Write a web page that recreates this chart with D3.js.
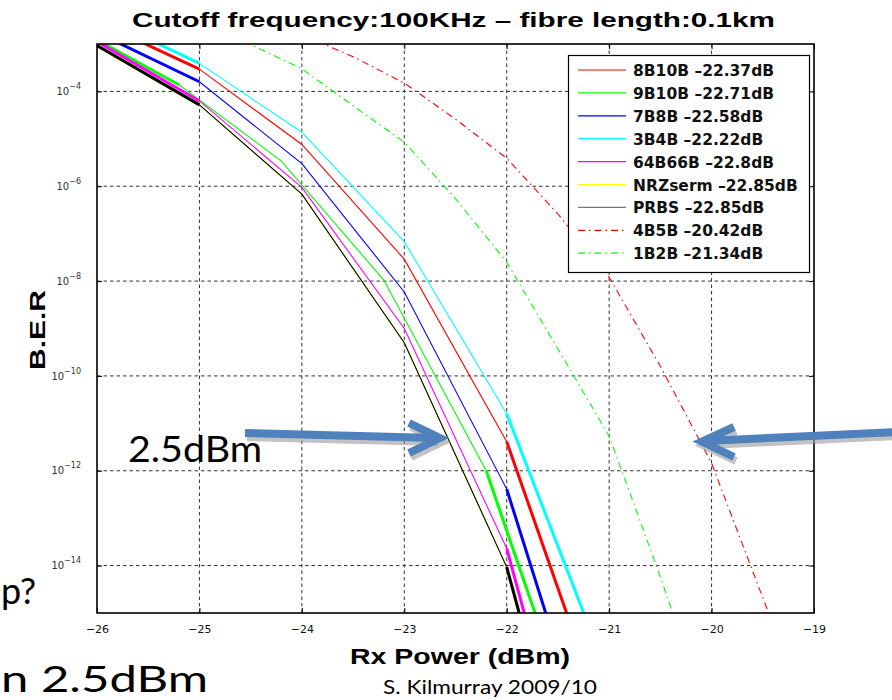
<!DOCTYPE html>
<html><head><meta charset="utf-8">
<script src="https://cdn.jsdelivr.net/npm/d3@7"></script>
<style>body{margin:0;background:#fff}svg{display:block}</style>
</head><body><svg id="c" width="892" height="700"></svg>
<script>
// ---- data (BER vs received power, dBm) ----
const xSolid = [-26, -25, -24, -23, -22, -21];
const x9B10B = [-26.2, -25.2, -24.2, -23.2, -22.2, -21.2];
const ber8B10B  = [3.0e-3, 2.95e-4, 7.6e-6, 2.9e-8, 4.1e-12, 2.7e-18];
const ber9B10B  = [2.1e-3, 1.38e-4, 3.4e-6, 1.05e-8, 1.0e-12, 5.0e-19];
const ber7B8B   = [1.74e-3, 1.6e-4, 3.0e-6, 5.9e-9, 4.1e-13, 5.6e-20];
const ber3B4B   = [4.2e-3, 3.9e-4, 1.38e-5, 6.8e-8, 1.6e-11, 4.1e-17];
const ber64B66B = [1.12e-3, 6.3e-5, 9.5e-7, 1.0e-9, 2.3e-14, 2.5e-22];
const berNRZ    = [9.3e-4, 5.2e-5, 6.8e-7, 5.0e-10, 9.3e-15, 1.0e-22];
const berPRBS   = [9.3e-4, 5.2e-5, 6.8e-7, 5.0e-10, 9.3e-15, 1.0e-22];
const x4B5B   = [-24, -23.5, -23, -22.5, -22, -21.5, -21, -20.5, -20, -19.5, -19];
const ber4B5B = [1.58e-3, 5.4e-4, 1.5e-4, 2.6e-5, 3.9e-6, 2.6e-7, 1.2e-8, 1.6e-10, 1.45e-12, 2.1e-15, 3.2e-18];
const x1B2B   = [-25, -24, -23.5, -23, -22.5, -22, -21.5, -21, -20.5, -20];
const ber1B2B = [3.2e-3, 3.0e-4, 5.0e-5, 8.5e-6, 5.5e-7, 2.5e-8, 3.7e-10, 5.4e-12, 5.8e-15, 4.0e-18];
const legendLabels = ["8B10B \u201322.37dB", "9B10B \u201322.71dB", "7B8B \u201322.58dB", "3B4B \u201322.22dB",
  "64B66B \u201322.8dB", "NRZserm \u201322.85dB", "PRBS \u201322.85dB", "4B5B \u201320.42dB", "1B2B \u201321.34dB"];
const xTicks = [-26, -25, -24, -23, -22, -21, -20, -19];
const yTicks = [1e-4, 1e-6, 1e-8, 1e-10, 1e-12, 1e-14];
const yTickExp = ["4", "6", "8", "10", "12", "14"];

// ---- series table (built from the arrays above) ----
const zip = (xs, ys) => xs.map((v, i) => [v, ys[i]]);
const series = [
  {pts: zip(xSolid, ber8B10B),  color: "#ff0000", legend: "#ff0000", dash: null, thick: true},
  {pts: zip(x9B10B, ber9B10B),  color: "#00ff00", legend: "#00ff00", dash: null, thick: true},
  {pts: zip(xSolid, ber7B8B),   color: "#0000ff", legend: "#0000ff", dash: null, thick: true},
  {pts: zip(xSolid, ber3B4B),   color: "#00ffff", legend: "#00ffff", dash: null, thick: true},
  {pts: zip(xSolid, ber64B66B), color: "#ff00ff", legend: "#ff00ff", dash: null, thick: true},
  {pts: zip(xSolid, berNRZ),    color: "#ffff00", legend: "#ffff00", dash: null, thick: true},
  {pts: zip(xSolid, berPRBS),   color: "#000000", legend: "#777777", dash: null, thick: true},
  {pts: zip(x4B5B, ber4B5B),    color: "#ff0000", legend: "#ff0000", dash: "7,4,1.5,4", thick: false},
  {pts: zip(x1B2B, ber1B2B),    color: "#00ff00", legend: "#00ff00", dash: "7,4,1.5,4", thick: false}
];

const svg = d3.select("#c");
const X0 = 97, X1 = 814, Y0 = 44, Y1 = 613;
const x = d3.scaleLinear().domain([-26, -19]).range([X0, X1]);
const y = d3.scaleLog().domain([1e-15, 1e-3]).range([Y1, Y0]);

svg.append("rect").attr("width", 892).attr("height", 700).attr("fill", "#fff");

// title
svg.append("text").attr("x", 132).attr("y", 27)
  .attr("font-family", "Liberation Sans, Arial, sans-serif").attr("font-weight", "bold").attr("font-size", 21)
  .attr("textLength", 643).attr("lengthAdjust", "spacingAndGlyphs")
  .text("Cutoff frequency:100KHz \u2013 fibre length:0.1km");

// grid
const grid = svg.append("g").attr("stroke", "#333").attr("stroke-width", 1).attr("stroke-dasharray", "3.5,3");
grid.selectAll("line.v").data(xTicks.slice(1, -1)).enter().append("line")
  .attr("x1", d => x(d)).attr("x2", d => x(d)).attr("y1", Y0).attr("y2", Y1);
grid.selectAll("line.h").data(yTicks).enter().append("line")
  .attr("y1", d => y(d)).attr("y2", d => y(d)).attr("x1", X0).attr("x2", X1);

// clip
svg.append("clipPath").attr("id", "clip").append("rect")
  .attr("x", X0).attr("y", Y0).attr("width", X1 - X0).attr("height", Y1 - Y0);

const line = d3.line().x(d => x(d[0])).y(d => y(d[1]));
const plot = svg.append("g").attr("clip-path", "url(#clip)");
series.forEach(s => {
  plot.append("path").attr("d", line(s.pts)).attr("fill", "none")
    .attr("stroke", s.color).attr("stroke-width", 1.1)
    .attr("stroke-dasharray", s.dash);
  if (s.thick) {
    const n = s.pts.length;
    [s.pts.slice(0, 2), s.pts.slice(n - 2)].forEach(seg => {
      plot.append("path").attr("d", line(seg)).attr("fill", "none")
        .attr("stroke", s.color).attr("stroke-width", 3);
    });
  }
});

// axes
const fmtX = d => "\u2212" + Math.abs(d);
const axB = svg.append("g").attr("transform", `translate(0,${Y1})`)
  .call(d3.axisBottom(x).tickValues(xTicks).tickSizeInner(-5).tickSizeOuter(0).tickPadding(12).tickFormat(fmtX));
const axT = svg.append("g").attr("transform", `translate(0,${Y0})`)
  .call(d3.axisTop(x).tickValues(xTicks).tickSizeInner(-5).tickSizeOuter(0).tickFormat(""));
const axL = svg.append("g").attr("transform", `translate(${X0},0)`)
  .call(d3.axisLeft(y).tickValues(yTicks).tickSizeInner(-5).tickSizeOuter(0).tickPadding(16).tickFormat(""));
const axR = svg.append("g").attr("transform", `translate(${X1},0)`)
  .call(d3.axisRight(y).tickValues(yTicks).tickSizeInner(-5).tickSizeOuter(0).tickFormat(""));
[axB, axT, axL, axR].forEach(g => { g.select(".domain").remove(); g.selectAll("line").attr("stroke", "#000"); });
axB.selectAll("text").attr("font-family", "DejaVu Sans, sans-serif").attr("font-size", 11).attr("fill", "#111");
axL.selectAll(".tick text").each(function(d, i) {
  const t = d3.select(this).attr("font-family", "DejaVu Sans, sans-serif").attr("fill", "#333").attr("font-size", 10);
  t.append("tspan").text("10");
  t.append("tspan").attr("dy", -6).attr("font-size", 8).text("\u2212" + yTickExp[i]);
});

// frame
svg.append("rect").attr("x", X0).attr("y", Y0).attr("width", X1 - X0).attr("height", Y1 - Y0)
  .attr("fill", "none").attr("stroke", "#000").attr("stroke-width", 1.6);

// axis labels
svg.append("text").attr("x", 350).attr("y", 664)
  .attr("font-family", "Liberation Sans, Arial, sans-serif").attr("font-weight", "bold").attr("font-size", 22)
  .attr("textLength", 220).attr("lengthAdjust", "spacingAndGlyphs").text("Rx Power (dBm)");
svg.append("text").attr("transform", "translate(45,330) rotate(-90)").attr("text-anchor", "middle")
  .attr("font-family", "Liberation Sans, Arial, sans-serif").attr("font-weight", "bold").attr("font-size", 22)
  .attr("textLength", 80).attr("lengthAdjust", "spacingAndGlyphs").text("B.E.R");

// legend
const lg = svg.append("g");
lg.append("rect").attr("x", 568.5).attr("y", 55.5).attr("width", 241).attr("height", 217)
  .attr("fill", "#fff").attr("stroke", "#000").attr("stroke-width", 1.2);
series.forEach((s, i) => {
  const yy = 70 + i * 22.9;
  lg.append("line").attr("x1", 578).attr("x2", 626).attr("y1", yy).attr("y2", yy)
    .attr("stroke", s.legend).attr("stroke-width", 1.2).attr("stroke-dasharray", s.dash);
  lg.append("text").attr("x", 633).attr("y", yy + 6)
    .attr("font-family", "DejaVu Sans, sans-serif").attr("font-weight", "bold").attr("font-size", 15.5)
    .attr("fill", "#111").text(legendLabels[i]);
});

// slide overlay: arrows and text
const arrows = [
  {shaft: "M245,433 L436,438", head: "M409,423 L440,438 L409,453"},
  {shaft: "M895,432 L706,441", head: "M734,427 L702,441.5 L734,457"}
];
arrows.forEach(a => {
  [a.shaft, a.head].forEach(p => {
    svg.append("path").attr("d", p).attr("transform", "translate(2,4)").attr("fill", "none")
      .attr("stroke", "#9a9a9a").attr("stroke-opacity", 0.6).attr("stroke-width", 8);
  });
  [a.shaft, a.head].forEach(p => {
    svg.append("path").attr("d", p).attr("fill", "none")
      .attr("stroke", "#4f81bd").attr("stroke-width", 8).attr("stroke-linejoin", "miter");
  });
});
const slideFont = "Lato, Open Sans, sans-serif";
svg.append("text").attr("x", 128).attr("y", 462).attr("font-family", slideFont).attr("font-size", 36)
  .attr("textLength", 134).attr("lengthAdjust", "spacingAndGlyphs").text("2.5dBm");
svg.append("text").attr("x", 1).attr("y", 604).attr("font-family", slideFont).attr("font-size", 36).text("p?");
svg.append("text").attr("x", 1).attr("y", 692).attr("font-family", slideFont).attr("font-size", 36)
  .attr("textLength", 207).attr("lengthAdjust", "spacingAndGlyphs").text("n 2.5dBm");
svg.append("text").attr("x", 383).attr("y", 694).attr("font-family", slideFont).attr("font-size", 20)
  .attr("textLength", 214).attr("lengthAdjust", "spacingAndGlyphs").text("S. Kilmurray 2009/10");
</script>
</body></html>
